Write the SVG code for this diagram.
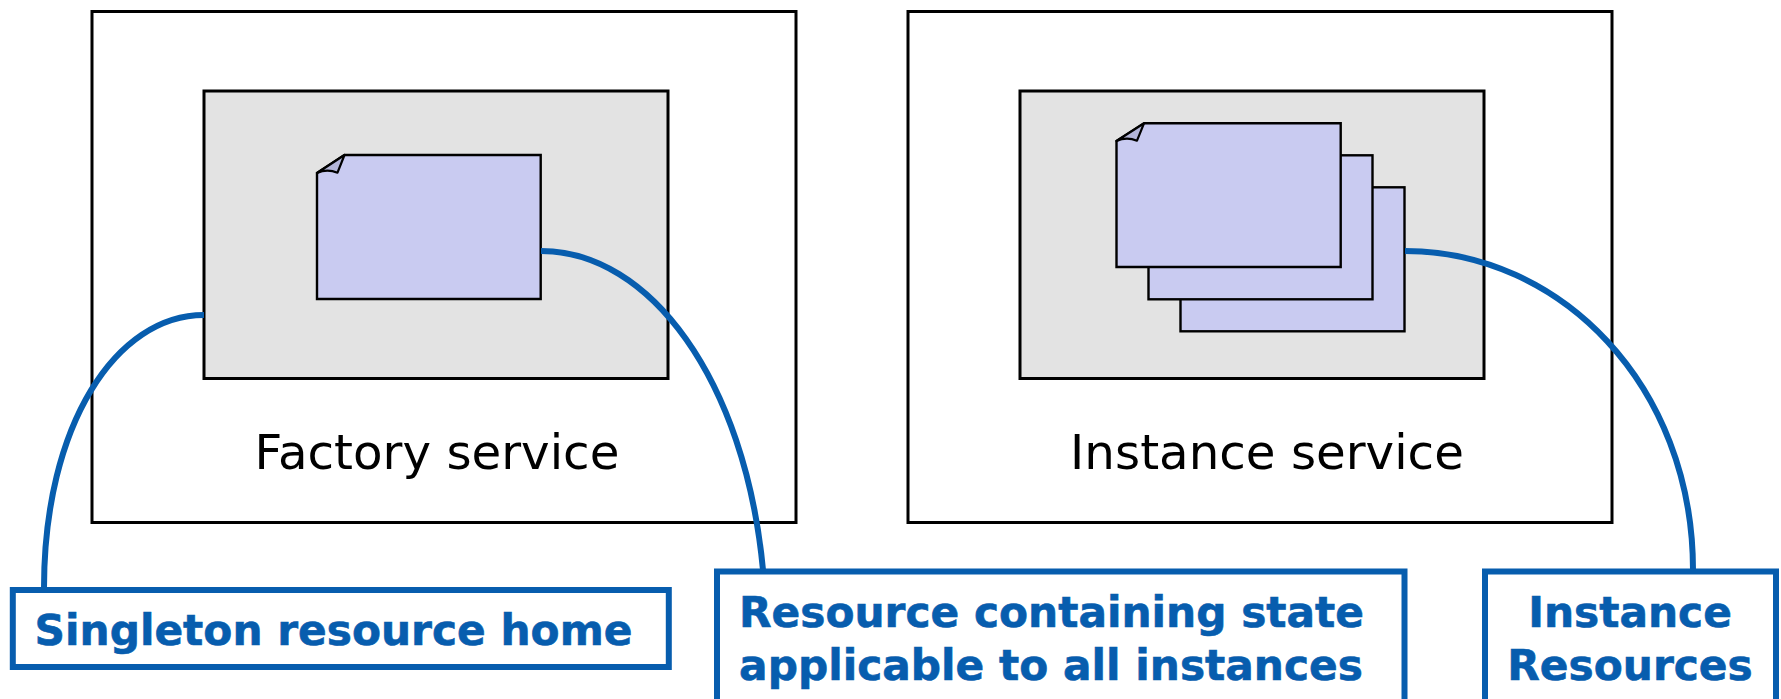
<svg xmlns="http://www.w3.org/2000/svg" width="1781" height="699" viewBox="0 0 1781 699">
<style>
.outer{fill:#fff;stroke:#000;stroke-width:3}
.gray{fill:#e3e3e3;stroke:#000;stroke-width:3}
.doc{fill:#c9cbf1;stroke:#000;stroke-width:2.400}
.fold{fill:#b3b5d8;stroke:#000;stroke-width:2.200;stroke-linejoin:round}
.conn{fill:none;stroke:#075dae;stroke-width:6}
.call{fill:#fff;stroke:#075dae;stroke-width:6}
.svc{font-family:"DejaVu Sans",sans-serif;font-size:48.300px;fill:#000;text-anchor:middle}
.lab{font-family:"DejaVu Sans",sans-serif;font-weight:bold;font-size:42.300px;fill:#075dae;stroke:#075dae;stroke-width:0.600;text-anchor:middle}
</style>
<g id="factory-service">
<rect class="outer" x="92" y="11.500" width="704" height="511"/>
<rect class="gray" x="204" y="91" width="464" height="287.500"/>
<text class="svc" x="437" y="469">Factory service</text>
</g>
<g id="factory-resource">
<path class="doc" d="M317 173L344.500 155H540.700V299H317Z"/>
<path class="fold" d="M317 173L344.500 155L337.500 172.700Q327 168.500 317 173Z"/>
</g>
<g id="instance-service">
<rect class="outer" x="908" y="11.500" width="704" height="511"/>
<rect class="gray" x="1020" y="91" width="464" height="287.500"/>
<text class="svc" x="1267" y="469">Instance service</text>
</g>
<g id="instance-resources">
<rect class="doc" x="1180.500" y="187.300" width="224" height="144"/>
<rect class="doc" x="1148.500" y="155.300" width="224" height="144"/>
<path class="doc" d="M1116.500 141L1144 123.300H1340.700V267H1116.500Z"/>
<path class="fold" d="M1116.500 141L1144 123.300L1137 140.700Q1126.500 136.500 1116.500 141Z"/>
</g>
<g id="connectors">
<path class="conn" d="M204 315C116 315 44 425 44 588"/>
<path class="conn" d="M541 251C650 251 745 380 763 570"/>
<path class="conn" d="M1405 251C1560 251 1693 385 1693 570"/>
</g>
<g id="singleton-callout">
<rect class="call" x="12.800" y="590" width="656" height="77"/>
<text class="lab" x="333.500" y="645">Singleton resource home</text>
</g>
<g id="state-callout">
<rect class="call" x="717" y="571.500" width="687.500" height="140"/>
<text class="lab" x="1051.500" y="627">Resource containing state</text>
<text class="lab" x="1051" y="680">applicable to all instances</text>
</g>
<g id="instance-callout">
<rect class="call" x="1485" y="571.500" width="291" height="140"/>
<text class="lab" x="1630" y="627">Instance</text>
<text class="lab" x="1630" y="680">Resources</text>
</g>
</svg>
